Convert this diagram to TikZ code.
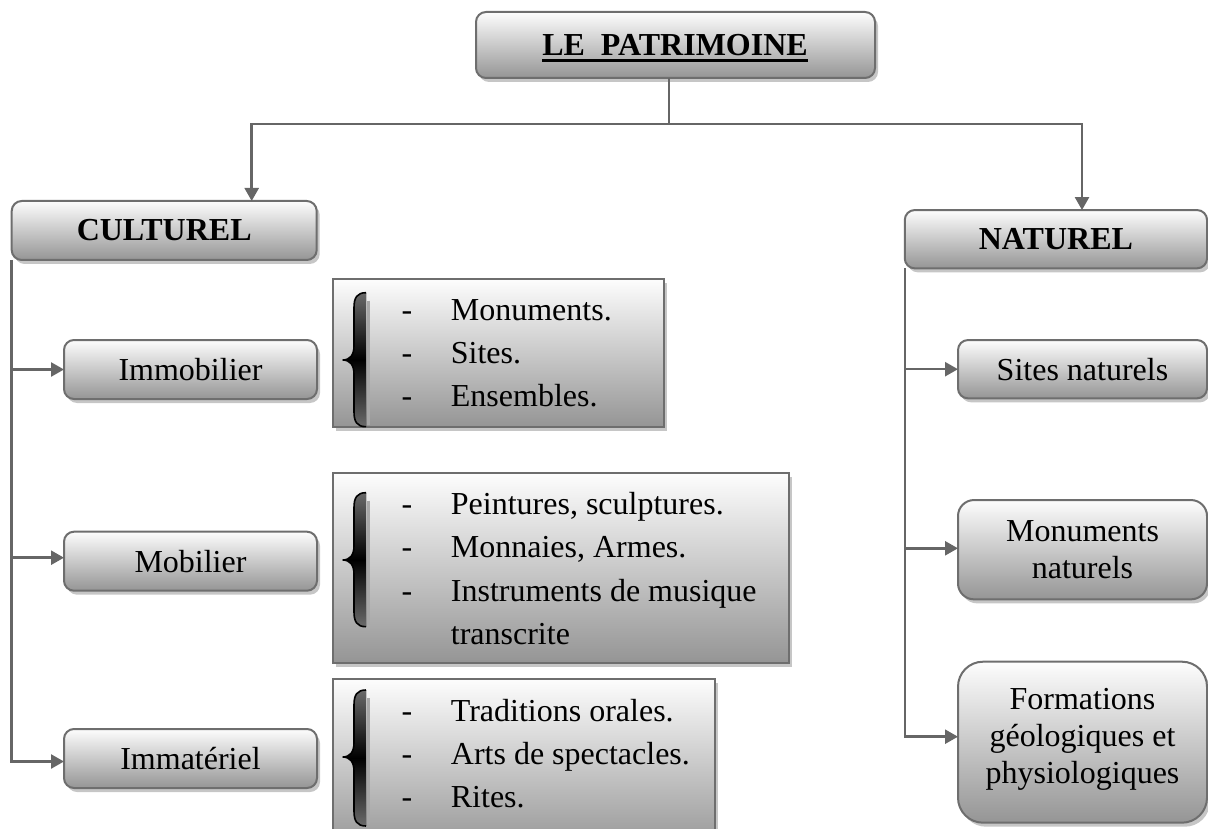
\documentclass[tikz,border=0pt]{standalone}
\usepackage{fontspec}
\setmainfont{Liberation Serif}
\usetikzlibrary{arrows.meta,shadows}
\definecolor{linegray}{HTML}{666666}
\definecolor{bordergray}{HTML}{6E6E6E}
\definecolor{boxbottom}{HTML}{959595}
\definecolor{boxtop}{HTML}{FDFDFD}
\definecolor{shadowgray}{HTML}{C6C6C6}
\definecolor{bracegray}{HTML}{6A6A6A}
\definecolor{braceshadow}{HTML}{A8A8A8}
\newcommand\mybrace[3]{%
  \draw[braceshadow, line width=3pt] (368.5,{#1+8}) -- (368.5,{#3-2});
  \fill[top color=bracegray, bottom color=bracegray, middle color=black]
    (366,#1) .. controls (357,#1) and (354,{#1+5}) .. (354,{#1+15})
    -- (354,{#2-14}) .. controls (354,{#2-5}) and (350,#2) .. (342.7,#2)
    .. controls (350,#2) and (354,{#2+5}) .. (354,{#2+14})
    -- (354,{#3-15}) .. controls (354,{#3-5}) and (357,#3) .. (366,#3) -- cycle;
  \draw[line width=1.6pt, black]
    (366,#1) .. controls (357,#1) and (354,{#1+5}) .. (354,{#1+15})
    -- (354,{#2-14}) .. controls (354,{#2-5}) and (350,#2) .. (342.7,#2)
    .. controls (350,#2) and (354,{#2+5}) .. (354,{#2+14})
    -- (354,{#3-15}) .. controls (354,{#3-5}) and (357,#3) .. (366,#3);
}
\begin{document}
\begin{tikzpicture}[x=1pt,y=-1pt,
  every node/.style={font=\fontsize{32}{37}\selectfont},
  rbox/.style={draw=bordergray, line width=2pt, rounded corners=10pt,
    top color=boxtop, bottom color=boxbottom,
    drop shadow={shadow xshift=3pt, shadow yshift=-4pt, fill=shadowgray, opacity=1},
    inner sep=0pt, outer sep=0pt, align=center, text=black},
  boldtxt/.style={font=\fontsize{32}{37}\selectfont\bfseries},
  lbox/.style={rbox, rounded corners=0pt},
  conn/.style={draw=linegray, line width=2.5pt},
  arr/.style={conn, -{Triangle[length=13pt,width=14pt]}},
  itm/.style={anchor=base west, inner sep=0pt},
  dsh/.style={anchor=base, inner sep=0pt},
]
\useasboundingbox (0,0) rectangle (1208,829);

% top box
\node[rbox, minimum width=399pt, minimum height=66pt] (title) at (675.5,45) {};
\node[boldtxt, anchor=base, inner sep=0pt] (ttl) at (675,55.5) {LE\ \ PATRIMOINE};
\draw[line width=2.6pt] ([yshift=-5pt]ttl.base west) -- ([yshift=-5pt]ttl.base east);

% main categories
\node[rbox, boldtxt, minimum width=305pt, minimum height=59pt] (cult) at (164.2,230.5) {CULTUREL};
\node[rbox, boldtxt, minimum width=302.3pt, minimum height=58.3pt] (nat) at (1055.9,239.2) {NATUREL};

% left sub boxes
\node[rbox, minimum width=253pt, minimum height=59pt] (immob) at (190.5,369.5) {Immobilier};
\node[rbox, minimum width=253pt, minimum height=59pt] (mob) at (190.5,561.2) {Mobilier};
\node[rbox, minimum width=253pt, minimum height=59pt] (immat) at (190.5,758.5) {Immatériel};

% right sub boxes
\node[rbox, minimum width=249pt, minimum height=58.3pt] (sites) at (1082.5,369.2) {Sites naturels};
\node[rbox, rounded corners=16pt, minimum width=249pt, minimum height=99.3pt] (monu) at (1082.5,549.7) {Monuments\\naturels};
\node[rbox, rounded corners=25pt, minimum width=249pt, minimum height=161pt] (form) at (1082.5,742.2) {};
\node[align=center, inner sep=0pt] (formtxt) at (1082.5,739) {Formations\\géologiques et\\physiologiques};

% list boxes
\node[lbox, minimum width=331pt, minimum height=147.7pt] (lst1) at (498.5,352.9) {};
\node[lbox, minimum width=456pt, minimum height=189.2pt] (lst2) at (561,567.9) {};
\node[lbox, minimum width=381.7pt, minimum height=171pt] (lst3) at (523.85,764.5) {};

% braces
\mybrace{292.7}{360}{426.7}
\mybrace{492.7}{560}{626.7}
\mybrace{690}{757}{826}

% list 1
\node[dsh] (d11) at (407,320) {-};
\node[itm] (t11) at (450.7,320) {Monuments.};
\node[dsh] (d12) at (407,363) {-};
\node[itm] (t12) at (450.7,363) {Sites.};
\node[dsh] (d13) at (407,406) {-};
\node[itm] (t13) at (450.7,406) {Ensembles.};

% list 2
\node[dsh] (d21) at (407,514) {-};
\node[itm] (t21) at (450.7,514) {Peintures, sculptures.};
\node[dsh] (d22) at (407,557.5) {-};
\node[itm] (t22) at (450.7,557.5) {Monnaies, Armes.};
\node[dsh] (d23) at (407,601) {-};
\node[itm] (t23) at (450.7,601) {Instruments de musique};
\node[itm] (t24) at (450.7,644.5) {transcrite};

% list 3
\node[dsh] (d31) at (407,721) {-};
\node[itm] (t31) at (450.7,721) {Traditions orales.};
\node[dsh] (d32) at (407,764) {-};
\node[itm] (t32) at (450.7,764) {Arts de spectacles.};
\node[dsh] (d33) at (407,807) {-};
\node[itm] (t33) at (450.7,807) {Rites.};

% connectors
\coordinate (junc) at (669,124);
\coordinate (lx) at (251.7,0);
\coordinate (rx) at (1082,0);
\coordinate (immobin) at (immob.west);
\coordinate (mobin) at ([yshift=3.5pt]mob.west);
\coordinate (immatin) at ([yshift=-3pt]immat.west);
\coordinate (sitesin) at (sites.west);
\coordinate (monuin) at ([yshift=1.4pt]monu.west);
\coordinate (formin) at ([yshift=5.5pt]form.west);

\draw[conn] (title.south -| junc) -- (junc);
\draw[arr] (junc) -| (cult.north -| lx);
\draw[arr] (junc) -| (nat.north -| rx);

\draw[arr] (cult.south west |- immobin) -- (immobin);
\draw[arr] (cult.south west |- mobin) -- (mobin);
\draw[arr] (cult.south west) |- (immatin);

\draw[arr] (nat.south west |- sitesin) -- (sitesin);
\draw[arr] (nat.south west |- monuin) -- (monuin);
\draw[arr] (nat.south west) |- (formin);
\end{tikzpicture}
\end{document}
